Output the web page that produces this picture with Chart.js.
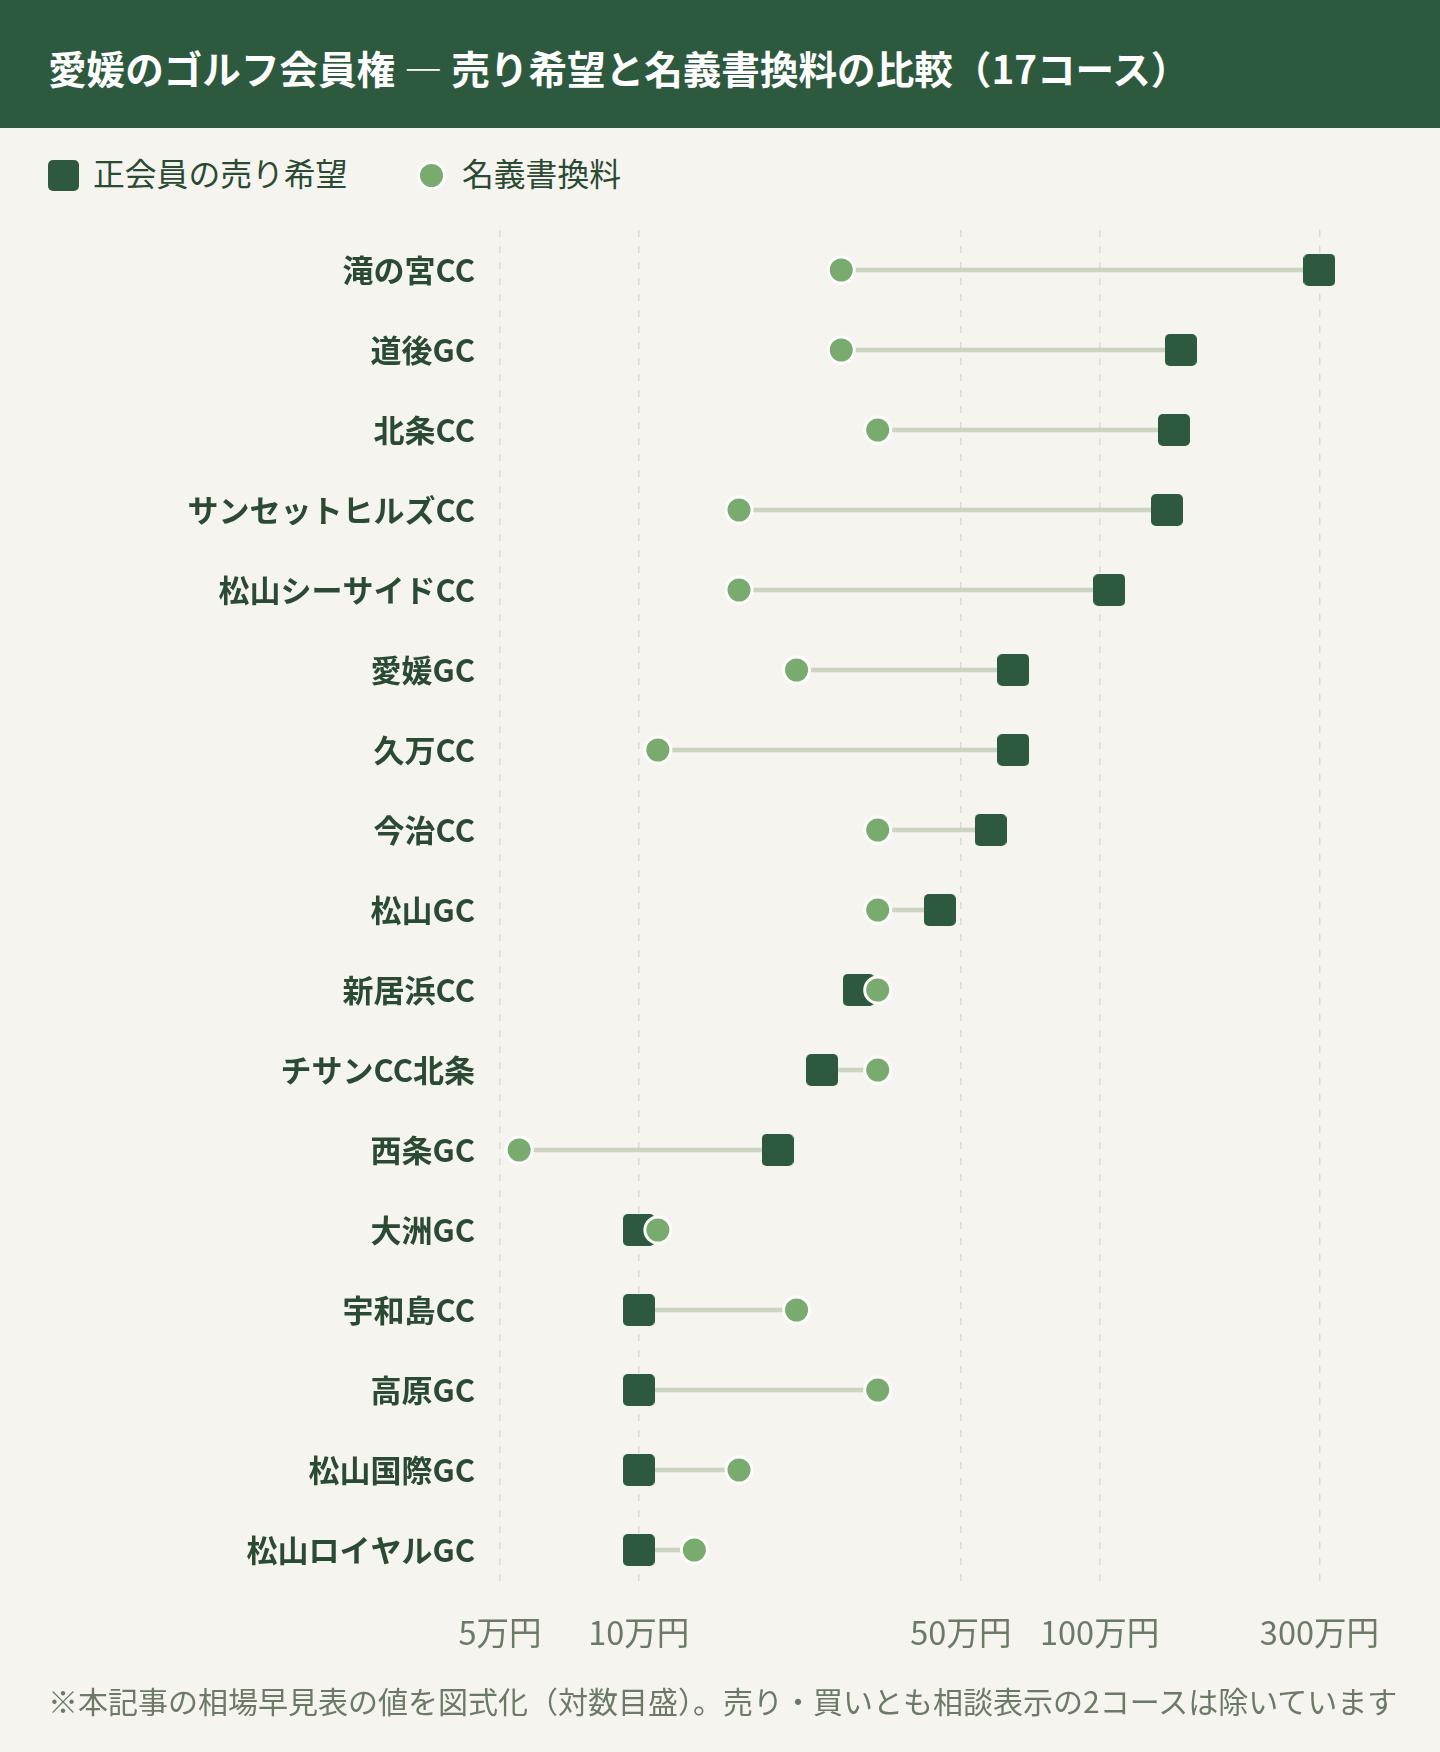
<!DOCTYPE html>
<html lang="ja">
<head>
<meta charset="utf-8">
<script src="https://cdn.jsdelivr.net/npm/chart.js@4.4.1/dist/chart.umd.min.js"></script>
<style>
  body{margin:0;width:1440px;height:1752px;background:#f5f4ee;font-family:"Noto Sans CJK JP","Noto Sans",sans-serif;position:relative;overflow:hidden}
  #header{position:absolute;left:0;top:0;width:1440px;height:128px;background:#2d5a3e;box-sizing:border-box;padding:6px 0 0 48px;display:flex;align-items:center}
  #header h1{margin:0;color:#fff;font-size:38.6px;font-weight:700;white-space:nowrap}
  .lg{position:absolute;white-space:nowrap}
  #lgSq{left:48px;top:160px;width:31px;height:31px;border-radius:5px;background:#2d5a3e}
  #lgCi{left:417px;top:161px;width:23px;height:23px;border-radius:50%;background:#7aab6e;border:3px solid #fff}
  .lgText{top:149px;font-size:31.8px;line-height:46px;color:#2b4a34}
  #wrap{position:absolute;left:0;top:200px;width:1440px;height:1480px}
  #note{position:absolute;left:48px;top:1680px;font-size:30px;line-height:40px;color:#6b7a66;white-space:nowrap}
</style>
</head>
<body>
<div id="header"><h1>愛媛のゴルフ会員権 — 売り希望と名義書換料の比較（17コース）</h1></div>
<div class="lg" id="lgSq"></div>
<div class="lg lgText" style="left:93px">正会員の売り希望</div>
<div class="lg" id="lgCi"></div>
<div class="lg lgText" style="left:462px">名義書換料</div>
<div id="wrap"><canvas id="myChart"></canvas></div>
<div id="note">※本記事の相場早見表の値を図式化（対数目盛）。売り・買いとも相談表示の2コースは除いています</div>
<script>
// 単位: 万円
const courses=['滝の宮CC','道後GC','北条CC','サンセットヒルズCC','松山シーサイドCC','愛媛GC','久万CC','今治CC','松山GC','新居浜CC','チサンCC北条','西条GC','大洲GC','宇和島CC','高原GC','松山国際GC','松山ロイヤルGC']
const askPrice=[300,150,145,140,105,65,65,58,45,30,25,20,10,10,10,10,10]
const transferFee=[27.5,27.5,33,16.5,16.5,22,11,33,33,33,33,5.5,11,22,33,16.5,13.2]
const tickValues=[5,10,50,100,300]

// 角丸の四角マーカー
function squareMarker(size,r,color){
  const c=document.createElement('canvas')
  c.width=size;c.height=size
  const g=c.getContext('2d')
  g.fillStyle=color
  g.beginPath()
  g.moveTo(r,0)
  g.arcTo(size,0,size,size,r)
  g.arcTo(size,size,0,size,r)
  g.arcTo(0,size,0,0,r)
  g.arcTo(0,0,size,0,r)
  g.closePath()
  g.fill()
  return c
}

const ranges=courses.map((c,i)=>[transferFee[i],askPrice[i]])

Chart.defaults.font.family='"Noto Sans CJK JP","Noto Sans",sans-serif'

const ctx=document.getElementById('myChart').getContext('2d')
const chart=new Chart(ctx,{
  type:'bar',
  data:{
    labels:courses,
    datasets:[
      {
        type:'line',
        label:'名義書換料',
        data:transferFee,
        showLine:false,
        pointStyle:'circle',
        pointRadius:13,
        pointBackgroundColor:'#7aab6e',
        pointBorderColor:'#ffffff',
        pointBorderWidth:3,
        order:0
      },
      {
        type:'line',
        label:'正会員の売り希望',
        data:askPrice,
        showLine:false,
        pointStyle:squareMarker(32,5,'#2d5a3e'),
        order:1
      },
      {
        type:'bar',
        label:'差',
        data:ranges,
        backgroundColor:'#cbd3c1',
        barThickness:4,
        borderWidth:0,
        order:2
      }
    ]
  },
  options:{
    indexAxis:'y',
    responsive:true,
    maintainAspectRatio:false,
    animation:false,
    events:[],
    layout:{padding:{top:30,right:63,bottom:0,left:0}},
    plugins:{legend:{display:false},tooltip:{enabled:false}},
    scales:{
      x:{
        type:'logarithmic',
        position:'bottom',
        min:4.5,
        max:400,
        afterBuildTicks:(s)=>{s.ticks=tickValues.map(v=>({value:v}))},
        afterFit:(s)=>{s.height=90;s.paddingLeft=0;s.paddingRight=0},
        ticks:{
          callback:(v)=>v+'万円',
          color:'#6b7a66',
          font:{size:32.5},
          padding:23,
          maxRotation:0,
          autoSkip:false
        },
        grid:{color:'#dcdbd2',lineWidth:1.5,drawTicks:false},
        border:{display:false,dash:[7,9]}
      },
      y:{
        type:'category',
        offset:true,
        afterFit:(s)=>{s.width=479;s.paddingTop=0;s.paddingBottom=0},
        ticks:{
          color:'#2b4a34',
          font:{size:31,weight:'bold'},
          padding:4,
          autoSkip:false
        },
        grid:{display:false,drawTicks:false},
        border:{display:false}
      }
    }
  }
})
</script>
</body>
</html>
